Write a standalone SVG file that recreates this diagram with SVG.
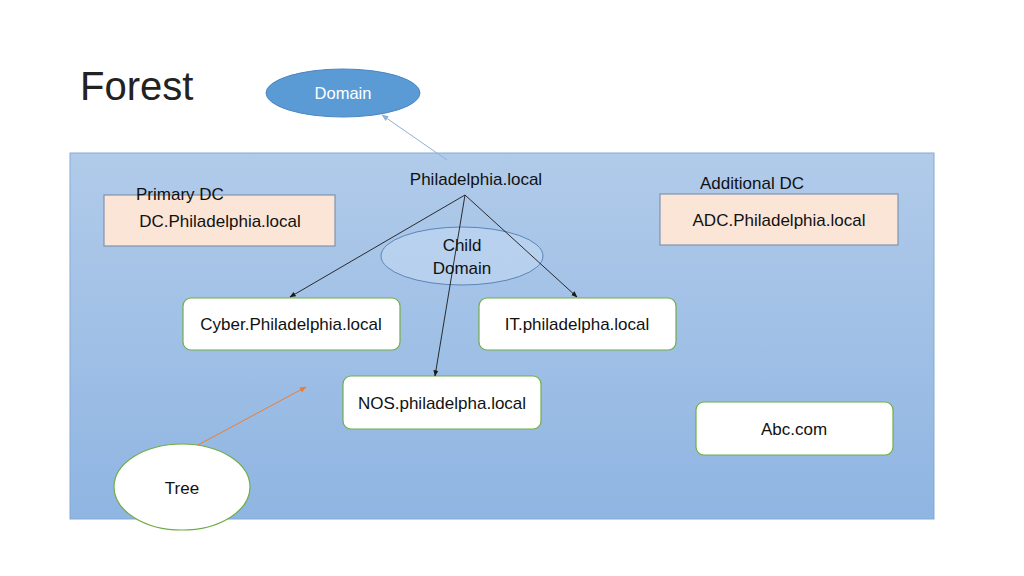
<svg xmlns="http://www.w3.org/2000/svg" width="1024" height="576" viewBox="0 0 1024 576">
<defs>
<linearGradient id="bg" x1="0" y1="0" x2="0" y2="1">
<stop offset="0" stop-color="#b1cbea"/>
<stop offset="1" stop-color="#8fb5e2"/>
</linearGradient>
<marker id="ab" viewBox="0 0 10 10" refX="9" refY="5" markerWidth="7" markerHeight="7" orient="auto"><path d="M0,1 L10,5 L0,9 z" fill="#1a1a1a"/></marker>
<marker id="ablue" viewBox="0 0 10 10" refX="9" refY="5" markerWidth="7" markerHeight="7" orient="auto"><path d="M0,1 L10,5 L0,9 z" fill="#8fb0d8"/></marker>
<marker id="aor" viewBox="0 0 10 10" refX="9" refY="5" markerWidth="7" markerHeight="7" orient="auto"><path d="M0,1 L10,5 L0,9 z" fill="#ed7d31"/></marker>
</defs>
<style>
text{font-family:"Liberation Sans",Arial,sans-serif;fill:#111;font-size:17px}
.box{fill:#fff;stroke:#70ad47;stroke-width:1.2}
.dc{fill:#fbe5d6;stroke:#7f94b0;stroke-width:1.2}
.c{text-anchor:middle}
.ln{stroke:#1a1a1a;stroke-width:0.9;fill:none}
</style>
<rect width="1024" height="576" fill="#fff"/>
<rect x="70" y="153" width="864" height="366" fill="url(#bg)" stroke="#86a9d2" stroke-width="1"/>
<text x="80" y="100" style="font-size:40px;fill:#222">Forest</text>
<g id="domain">
<ellipse cx="343" cy="93" rx="77" ry="24" fill="#5b9bd5" stroke="#4a86c0"/>
<text x="343" y="99" class="c" style="fill:#fff;font-size:16.5px">Domain</text>
</g>
<g id="root"><text x="476" y="185" class="c">Philadelphia.local</text></g>
<g id="primary-dc">
<rect x="104" y="195" width="231" height="51" class="dc"/>
<text x="136" y="200">Primary DC</text>
<text x="220" y="227" class="c">DC.Philadelphia.local</text>
</g>
<g id="additional-dc">
<text x="700" y="189">Additional DC</text>
<rect x="660" y="194" width="238" height="51" class="dc"/>
<text x="779" y="226" class="c">ADC.Philadelphia.local</text>
</g>
<g id="child-domain">
<ellipse cx="462" cy="256" rx="81" ry="29" fill="#bcd3ef" fill-opacity="0.8" stroke="#5b85b8" stroke-width="1"/>
<text x="462" y="251" class="c">Child</text>
<text x="462" y="274" class="c">Domain</text>
</g>
<g id="cyber"><rect x="183" y="298" width="217" height="52" rx="8" class="box"/><text x="291" y="330" class="c">Cyber.Philadelphia.local</text></g>
<g id="it"><rect x="479" y="298" width="197" height="52" rx="8" class="box"/><text x="577" y="330" class="c">IT.philadelpha.local</text></g>
<g id="nos"><rect x="343" y="376" width="198" height="53" rx="8" class="box"/><text x="442" y="409" class="c">NOS.philadelpha.local</text></g>
<g id="abc"><rect x="696" y="402" width="197" height="53" rx="8" class="box"/><text x="794" y="435" class="c">Abc.com</text></g>
<g id="tree"><ellipse cx="182" cy="487" rx="68" ry="43" fill="#fff" stroke="#70ad47" stroke-width="1.2"/><text x="182" y="494" class="c">Tree</text></g>
<g id="connectors">
<line x1="447" y1="160" x2="382" y2="115" stroke="#8fb0d8" stroke-width="1" marker-end="url(#ablue)"/>
<line x1="465" y1="195" x2="290" y2="297" class="ln" marker-end="url(#ab)"/>
<line x1="465" y1="195" x2="577" y2="297" class="ln" marker-end="url(#ab)"/>
<line x1="465" y1="195" x2="435" y2="376" class="ln" marker-end="url(#ab)"/>
<line x1="198" y1="445" x2="306" y2="387" stroke="#ed7d31" stroke-width="1" marker-end="url(#aor)"/>
</g>
</svg>
